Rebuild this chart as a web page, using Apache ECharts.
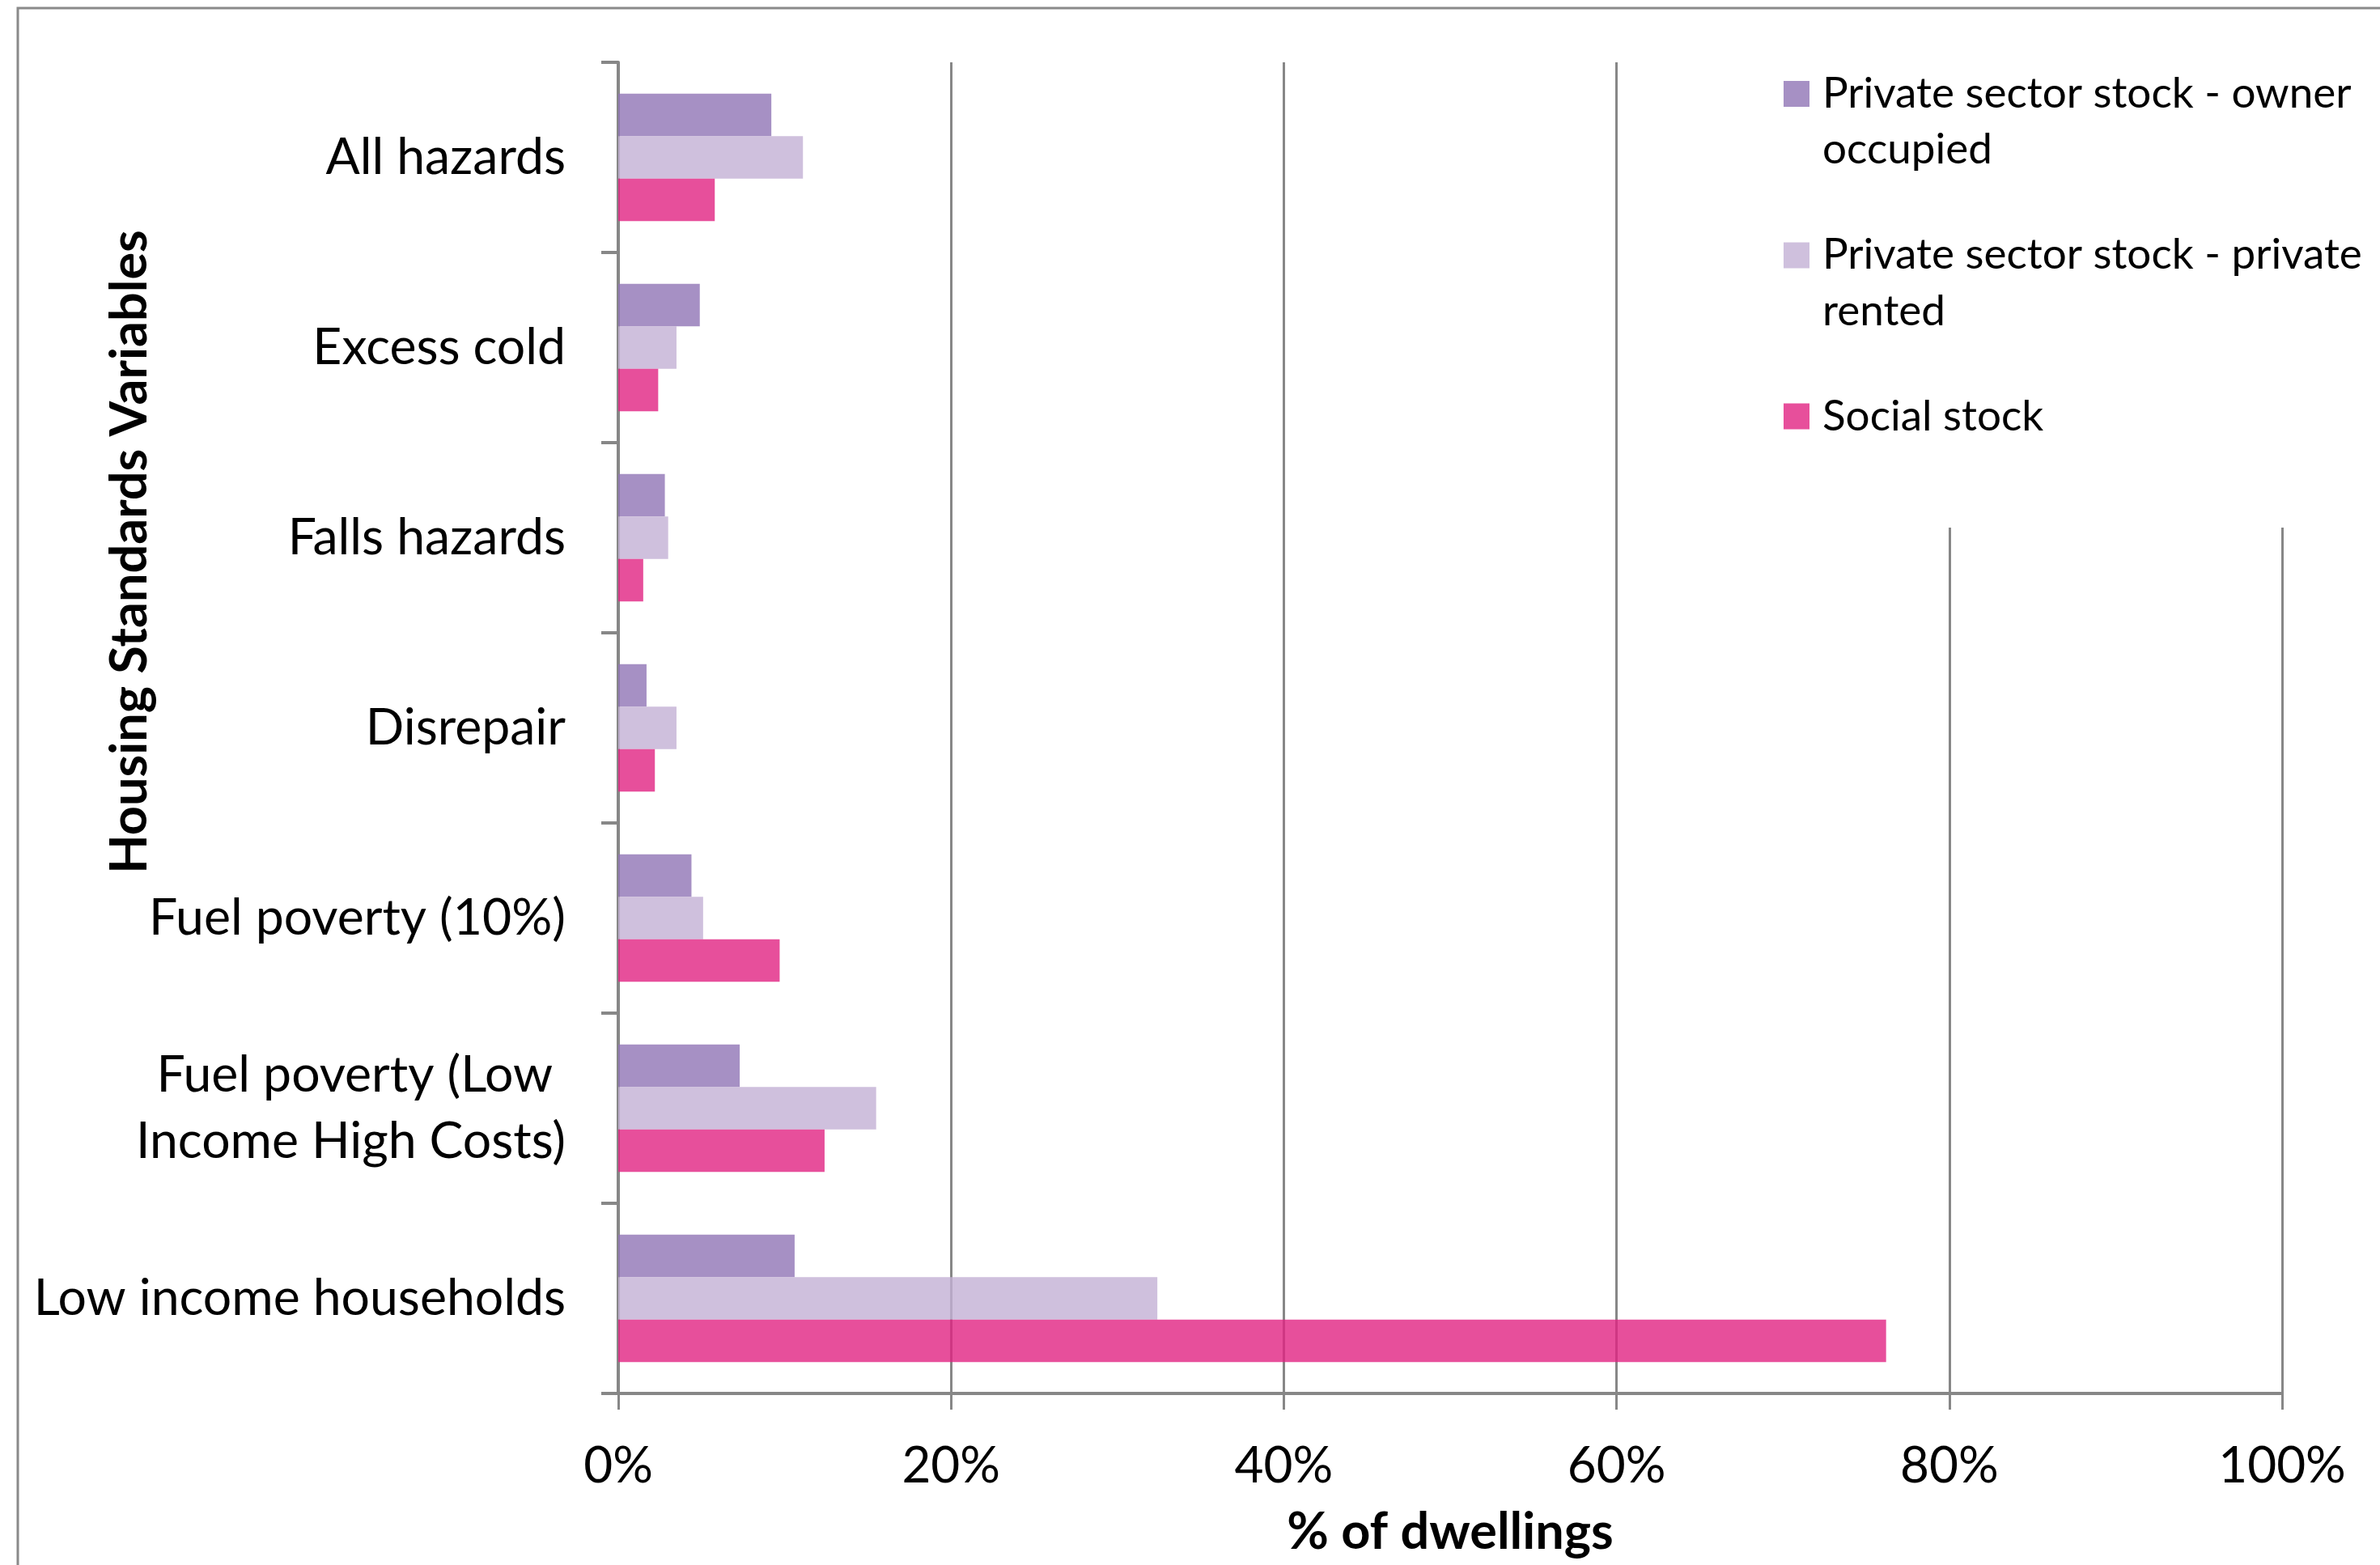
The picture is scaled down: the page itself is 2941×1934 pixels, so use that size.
<!DOCTYPE html>
<html>
<head>
<meta charset="utf-8">
<script src="https://cdn.jsdelivr.net/npm/echarts@6/dist/echarts.min.js"></script>
<style>
  html, body { margin: 0; padding: 0; background: #ffffff; }
  #chart { width: 2941px; height: 1934px; }
</style>
</head>
<body>
<div id="chart"></div>
<script>
// Housing standards indicators by tenure (% of dwellings)
const categories = [
  'All hazards',
  'Excess cold',
  'Falls hazards',
  'Disrepair',
  'Fuel poverty (10%)',
  'Fuel poverty (Low \nIncome High Costs)',
  'Low income households'
];
const seriesNames = [
  'Private sector stock - owner\noccupied',
  'Private sector stock - private\nrented',
  'Social stock'
];
const ownerOccupied = [9.2, 4.9, 2.8, 1.7, 4.4, 7.3, 10.6];
const privateRented = [11.1, 3.5, 3.0, 3.5, 5.1, 15.5, 32.4];
const socialStock   = [5.8, 2.4, 1.5, 2.2, 9.7, 12.4, 76.2];
const xTickValues   = [0, 20, 40, 60, 80, 100];

const FONT = 'Lato, "Open Sans", sans-serif';
const GREY = '#878787';
const colors = ['rgba(144,116,181,0.8)', 'rgba(195,176,212,0.8)', 'rgba(225,35,130,0.8)'];

const chart = echarts.init(document.getElementById('chart'), null, { renderer: 'canvas' });

const seriesData = [ownerOccupied, privateRented, socialStock];

// Legend entries: the swatch sits beside the first line of a wrapped name.
const legendText = { fontFamily: FONT, fontSize: 53, color: '#000000' };
function legendFormatter(name) {
  const parts = name.split('\n');
  if (parts.length === 2) {
    return '{first|' + parts[0] + '}\n{second|' + parts[1] + '}';
  }
  return '{single|' + name + '}';
}

const option = {
  backgroundColor: '#ffffff',
  animation: false,
  textStyle: { fontFamily: FONT },
  grid: {
    left: 764, right: 121, top: 77, bottom: 212,
    containLabel: false,
    outerBoundsMode: 'none'
  },
  legend: {
    orient: 'vertical',
    align: 'left',
    left: 2150,
    top: 10.5,
    padding: [78.6, 10, 111, 54],
    itemGap: 77,
    itemWidth: 32,
    itemHeight: 32,
    icon: 'rect',
    backgroundColor: '#ffffff',
    selectedMode: false,
    data: seriesNames,
    formatter: legendFormatter,
    textStyle: {
      fontFamily: FONT, fontSize: 53, color: '#000000',
      padding: [0, 0, 0, 11],
      rich: {
        first: Object.assign({ lineHeight: 138 }, legendText),
        second: Object.assign({ lineHeight: 1 }, legendText),
        single: Object.assign({ lineHeight: 131 }, legendText)
      }
    }
  },
  xAxis: {
    type: 'value',
    min: xTickValues[0],
    max: xTickValues[xTickValues.length - 1],
    interval: xTickValues[1] - xTickValues[0],
    name: '% of dwellings',
    nameLocation: 'middle',
    nameGap: 138,
    nameMoveOverlap: false,
    nameTextStyle: { fontFamily: FONT, fontSize: 63, fontWeight: 'bold', lineHeight: 67, color: '#000000' },
    axisLine: { show: true, lineStyle: { color: GREY, width: 4 } },
    axisTick: { show: true, length: 20, lineStyle: { color: GREY, width: 3 } },
    splitLine: { show: true, lineStyle: { color: GREY, width: 3 } },
    axisLabel: {
      formatter: '{value}%',
      margin: 56,
      fontFamily: FONT, fontSize: 62, lineHeight: 67, color: '#000000'
    }
  },
  yAxis: {
    type: 'category',
    inverse: true,
    data: categories,
    name: 'Housing Standards Variables',
    nameLocation: 'middle',
    nameRotate: 90,
    nameGap: 572,
    nameMoveOverlap: false,
    nameTextStyle: {
      fontFamily: FONT, fontSize: 63, fontWeight: 'bold', lineHeight: 62, color: '#000000',
      padding: [0, 0, 0, 435]
    },
    axisLine: { show: true, lineStyle: { color: GREY, width: 4 } },
    axisTick: { show: true, length: 21, alignWithLabel: false, lineStyle: { color: GREY, width: 4 } },
    splitLine: { show: false },
    axisLabel: {
      interval: 0,
      margin: 65,
      align: 'right',
      fontFamily: FONT, fontSize: 62.5, lineHeight: 82, color: '#000000'
    }
  },
  series: seriesData.map((values, i) => ({
    name: seriesNames[i],
    type: 'bar',
    data: values,
    barGap: '0%',
    barCategoryGap: '33%',
    itemStyle: { color: colors[i] },
    emphasis: { disabled: true }
  })),
  graphic: {
    elements: [{
      type: 'rect',
      z: 100,
      silent: true,
      shape: { x: 22, y: 10, width: 3200, height: 3200 },
      style: { fill: 'none', stroke: '#8a8a8a', lineWidth: 3 }
    }]
  }
};

chart.setOption(option);
</script>
</body>
</html>
